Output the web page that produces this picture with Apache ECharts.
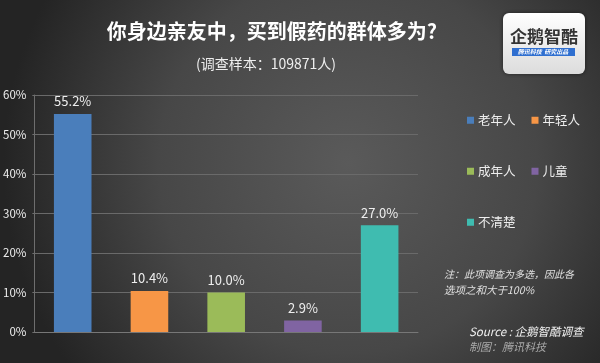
<!DOCTYPE html>
<html><head><meta charset="utf-8">
<script src="https://cdn.jsdelivr.net/npm/echarts@6/dist/echarts.min.js"></script>
<style>html,body{margin:0;padding:0;background:#333}#c{width:600px;height:363px}</style>
</head><body><div id="c"></div>
<script>
var categories = ['老年人','年轻人','成年人','儿童','不清楚'];
var values = [55.2, 10.4, 10.0, 2.9, 27.0];
var colors = ['#4a7ebb','#f79646','#9bbb59','#8064a2','#3fbcb0'];
var yTicks = [0,10,20,30,40,50,60];
var titleText = '你身边亲友中，买到假药的群体多为?';
var subtitleText = '(调查样本：109871人)';
var noteLines = ['注：此项调查为多选，因此各','选项之和大于100%'];
var sourceText = 'Source : 企鹅智酷调查';
var makerText = '制图：腾讯科技';

var FONT = '"Noto Sans CJK SC","Microsoft YaHei",sans-serif';
var chart = echarts.init(document.getElementById('c'), null, {renderer:'canvas'});

var series = categories.map(function(name, i){
  var d = categories.map(function(_, j){ return j === i ? values[j] : '-'; });
  return {
    name: name, type: 'bar', stack: 'all', data: d, barWidth: '49%',
    itemStyle: {color: colors[i]},
    label: {show: true, position: 'top', distance: 6, color: '#eeeeee', fontSize: 13, fontFamily: FONT,
      formatter: function(p){ return Number(p.value).toFixed(1) + '%'; }},
    emphasis: {disabled: true}
  };
});

function legendRow(names, top){
  return {data: names, left: 462, top: top, orient: 'horizontal', icon: 'rect', itemWidth: 7, itemHeight: 7,
    itemGap: 16, textStyle: {color: '#eeeeee', fontSize: 12.5, fontFamily: FONT, padding: [0,0,0,-1]}, selectedMode: false};
}

chart.setOption({
  backgroundColor: {type:'radial', x:0.58, y:0.45, r:0.95, colorStops:[{offset:0,color:'#5a5a5a'},{offset:0.55,color:'#474747'},{offset:1,color:'#242424'}]},
  animation: false,
  grid: {left: 33, right: 182, top: 95, bottom: 31},
  legend: [legendRow(categories.slice(0,2), 109), legendRow(categories.slice(2,4), 160), legendRow(categories.slice(4), 211)],
  xAxis: {type: 'category', data: categories, axisLabel: {show:false}, axisTick: {show:false},
    axisLine: {lineStyle: {color: '#777777', width: 1}}},
  yAxis: {type: 'value', min: yTicks[0], max: yTicks[yTicks.length-1], interval: 10,
    axisLine: {show: true, lineStyle: {color: '#6e6e6e'}},
    axisTick: {show: true, length: 2, lineStyle: {color: '#6e6e6e'}},
    splitLine: {lineStyle: {color: '#6a6a6a', width: 1}},
    axisLabel: {color: '#eeeeee', fontSize: 11.5, margin: 8, fontFamily: FONT, formatter: '{value}%'}},
  series: series,
  graphic: [
    {type:'text', x: 272, y: 31.5, style:{text: titleText, fill:'#ffffff', font: 'bold 20px ' + FONT, align:'center', verticalAlign:'middle'}},
    {type:'text', x: 266, y: 64, style:{text: subtitleText, fill:'#eeeeee', font: '14px ' + FONT, align:'center', verticalAlign:'middle'}},
    {type:'text', x: 444, y: 274, style:{text: noteLines[0], fill:'#e0e0e0', font: 'italic 10px ' + FONT, verticalAlign:'middle'}},
    {type:'text', x: 444, y: 290, style:{text: noteLines[1], fill:'#e0e0e0', font: 'italic 10.5px ' + FONT, verticalAlign:'middle'}},
    {type:'text', x: 469, y: 332, style:{text: sourceText, fill:'#f0f0f0', font: 'italic 11.5px ' + FONT, verticalAlign:'middle'}},
    {type:'text', x: 469, y: 347, style:{text: makerText, fill:'#aaaaaa', font: 'italic 11px ' + FONT, verticalAlign:'middle'}},
    {type:'group', x: 503, y: 13, children: [
      {type:'rect', shape:{x:0,y:0,width:82,height:61,r:6}, style:{fill:{type:'linear',x:0,y:0,x2:0,y2:1,colorStops:[{offset:0,color:'#ffffff'},{offset:1,color:'#dcdcdc'}]}, shadowBlur:4, shadowColor:'rgba(0,0,0,0.5)'}},
      {type:'text', x: 41, y: 24, style:{text:'企鹅智酷', fill:'#333333', font:'bold 17px ' + FONT, align:'center', verticalAlign:'middle'}},
      {type:'rect', shape:{x:9,y:35,width:63,height:8}, style:{fill:'#2f6fd0'}},
      {type:'text', x: 40, y: 39, style:{text:'腾讯科技  研究出品', fill:'#ffffff', font:'italic bold 6px ' + FONT, align:'center', verticalAlign:'middle'}}
    ]}
  ]
});
</script></body></html>
